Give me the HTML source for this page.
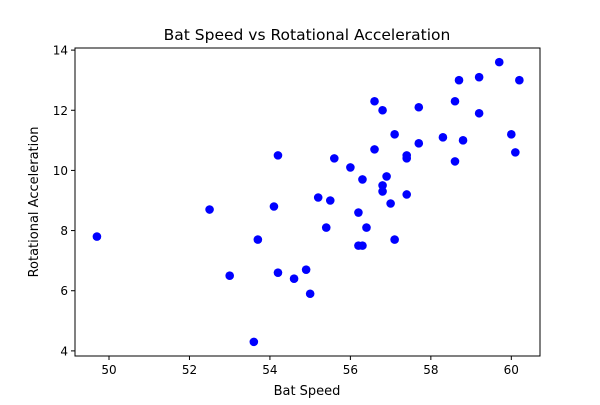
<!DOCTYPE html>
<html><head><meta charset="utf-8"><style>
body{margin:0;background:#fff}
svg text{font-family:"DejaVu Sans","Liberation Sans",sans-serif;fill:#000}
</style></head><body>
<svg id="chart" width="600" height="400">
<rect width="600" height="400" fill="#fff"/>
<text x="307" y="40" font-size="15.5" text-anchor="middle">Bat Speed vs Rotational Acceleration</text>
<g id="plot"></g>
<rect x="75" y="48" width="465" height="308" fill="none" stroke="#000" stroke-width="1"/>
<text x="307" y="395" font-size="13" text-anchor="middle">Bat Speed</text>
<text x="0" y="0" font-size="13" text-anchor="middle" transform="translate(38,202) rotate(-90)">Rotational Acceleration</text>
</svg>
<script>
const batSpeed=[49.7,52.5,53.0,53.6,53.7,54.1,54.2,54.2,54.6,54.9,55.0,55.2,55.4,55.5,55.6,56.0,56.2,56.2,56.3,56.3,56.4,56.6,56.6,56.8,56.8,56.8,56.9,57.0,57.1,57.1,57.4,57.4,57.4,57.7,57.7,58.3,58.6,58.6,58.7,58.8,59.2,59.2,59.7,60.0,60.1,60.2];
const rotAccel=[7.8,8.7,6.5,4.3,7.7,8.8,10.5,6.6,6.4,6.7,5.9,9.1,8.1,9.0,10.4,10.1,8.6,7.5,7.5,9.7,8.1,12.3,10.7,12.0,9.5,9.3,9.8,8.9,11.2,7.7,10.5,10.4,9.2,12.1,10.9,11.1,12.3,10.3,13.0,11.0,13.1,11.9,13.6,11.2,10.6,13.0];
const xTicks=[50,52,54,56,58,60];
const yTicks=[4,6,8,10,12,14];
const X0=75,X1=540,Y0=48,Y1=356;
const xMin=49.155,xMax=60.713,yMin=3.83,yMax=14.07;
function sx(v){return X0+(v-xMin)/(xMax-xMin)*(X1-X0);}
function sy(v){return Y1-(v-yMin)/(yMax-yMin)*(Y1-Y0);}
const NS="http://www.w3.org/2000/svg";
const g=document.getElementById('plot');
function mk(t,a){const e=document.createElementNS(NS,t);for(const k in a)e.setAttribute(k,a[k]);g.appendChild(e);return e;}
xTicks.forEach(v=>{
  const l=mk('line',{x1:sx(v),x2:sx(v),y1:Y1,y2:Y1+4,stroke:'#000'});
  
  
  const t=mk('text',{x:sx(v),y:Y1+18,'font-size':12,'text-anchor':'middle'});
  t.textContent=v;
  
  
});
yTicks.forEach(v=>{
  const l=mk('line',{x1:X0-4,x2:X0,y1:sy(v),y2:sy(v),stroke:'#000'});
  
  
  const t=mk('text',{x:X0-7,y:sy(v)+4.5,'font-size':12,'text-anchor':'end'});
  t.textContent=v;
  
  
});
batSpeed.forEach((v,i)=>{
  const c=mk('circle',{cx:sx(v),cy:sy(rotAccel[i]),r:4.3,fill:'#0000ff'});
  
  
});
</script>
</body></html>
